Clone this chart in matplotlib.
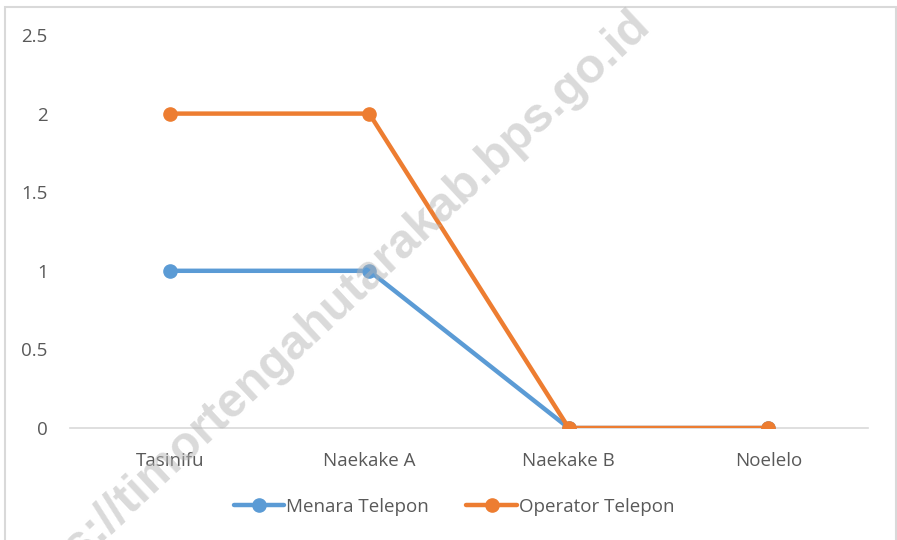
import matplotlib
matplotlib.use("Agg")
import matplotlib.pyplot as plt
from matplotlib.patches import Rectangle

villages = ["Tasinifu", "Naekake A", "Naekake B", "Noelelo"]
menara = [1, 1, 0, 0]
operator = [2, 2, 0, 0]
yticks = [0, 0.5, 1, 1.5, 2, 2.5]
ytick_labels = ["0", "0.5", "1", "1.5", "2", "2.5"]

BLUE = "#5B9BD5"
ORANGE = "#ED7D31"
TXT = "#595959"

plt.rcParams["font.family"] = ["Open Sans", "DejaVu Sans"]

fig = plt.figure(figsize=(8.97, 5.40), dpi=100)
fig.patch.set_facecolor("white")

# chart border
fig.patches.append(Rectangle((5 / 897, -0.02), 891 / 897, 1 - 7 / 540 + 0.02,
                             transform=fig.transFigure, fill=False,
                             edgecolor="#d9d9d9", linewidth=1.5))

ax = fig.add_axes([70 / 897, 1 - 428 / 540, 798 / 897, 393 / 540])
x = range(len(villages))
ax.plot(x, menara, color=BLUE, lw=3.2, marker="o", ms=9.5, label="Menara Telepon",
        solid_capstyle="round", zorder=3)
ax.plot(x, operator, color=ORANGE, lw=3.2, marker="o", ms=9.5, label="Operator Telepon",
        solid_capstyle="round", zorder=4)

ax.set_xlim(-0.5, len(villages) - 0.5)
ax.set_ylim(0, 2.5)
ax.set_xticks(list(x))
ax.set_xticklabels(villages, fontsize=13.5, color=TXT)
ax.set_yticks(yticks)
ax.set_yticklabels(ytick_labels, fontsize=13.5, color=TXT)
ax.tick_params(axis="both", length=0)
ax.tick_params(axis="y", pad=16)
ax.tick_params(axis="x", pad=17)
for side in ["top", "right", "left"]:
    ax.spines[side].set_visible(False)
ax.spines["bottom"].set_color("#d9d9d9")
ax.spines["bottom"].set_linewidth(1.2)
ax.spines["bottom"].set_zorder(1)

leg = fig.legend(loc="center", bbox_to_anchor=(454 / 897, 1 - 507 / 540), ncol=2,
                 frameon=False, fontsize=13.5, handlelength=2.7, handletextpad=0.1,
                 columnspacing=2.0)
for t in leg.get_texts():
    t.set_color(TXT)

# watermark (runs off the image edges, as in the source)
fig.text(323 / 897, 1 - 316 / 540, "https://timortengahutarakab.bps.go.id",
         rotation=43, fontsize=35, fontweight="bold", family="Liberation Sans",
         color="#b5b5b5", alpha=0.5, ha="center", va="center",
         rotation_mode="anchor", zorder=10)

fig.savefig("out.png", dpi=100, facecolor="white")
